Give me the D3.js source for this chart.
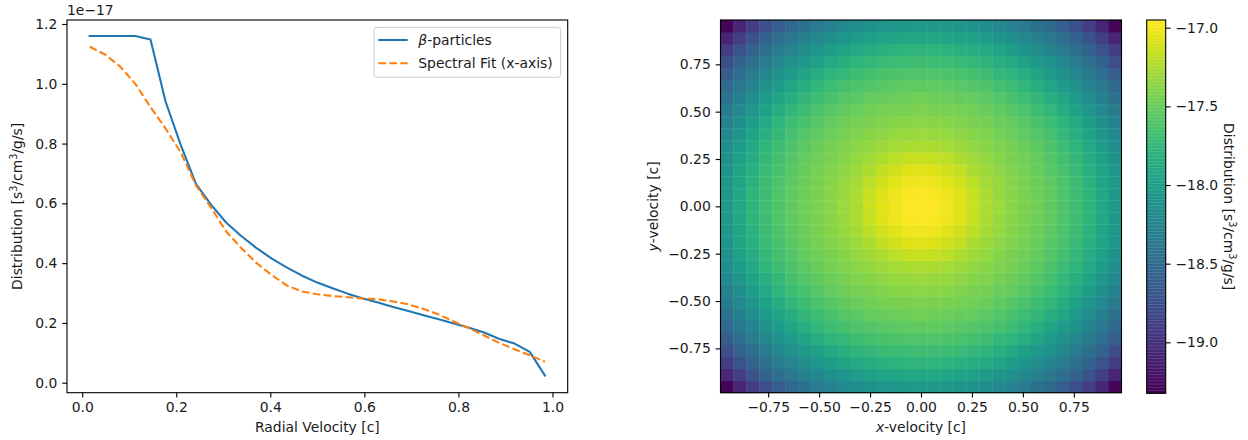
<!DOCTYPE html>
<html><head><meta charset="utf-8">
<script src="https://cdn.jsdelivr.net/npm/d3@7"></script>
<style>
body{margin:0;background:#fff}
text{font-family:"DejaVu Sans",sans-serif;fill:#1a1a1a}
</style>
</head><body>
<svg id="c" width="1248" height="440"></svg>
<script>
// ---------- data: left panel ----------
const radialVelocity = [0.0161,0.0484,0.0806,0.1129,0.1452,0.1774,0.2097,0.2419,0.2742,0.3065,
  0.3387,0.3710,0.4032,0.4355,0.4677,0.5000,0.5323,0.5645,0.5968,0.6290,
  0.6613,0.6935,0.7258,0.7581,0.7903,0.8226,0.8548,0.8871,0.9194,0.9516,0.9839];
const betaParticles = [1.160,1.160,1.160,1.160,1.148,0.940,0.795,0.665,0.595,0.535,
  0.490,0.450,0.415,0.385,0.358,0.335,0.316,0.298,0.282,0.268,
  0.253,0.240,0.226,0.212,0.198,0.184,0.168,0.146,0.131,0.103,0.024];
const spectralFit = [1.124,1.098,1.058,1.000,0.922,0.850,0.770,0.660,0.585,0.505,
  0.450,0.400,0.360,0.325,0.305,0.296,0.290,0.286,0.282,0.279,
  0.272,0.262,0.247,0.228,0.205,0.182,0.158,0.133,0.112,0.092,0.070];
const xTicksLeft = [0.0,0.2,0.4,0.6,0.8,1.0];
const yTicksLeft = [0.0,0.2,0.4,0.6,0.8,1.0,1.2];
const seriesNames = ["β-particles","Spectral Fit (x-axis)"];

// ---------- data: right panel (log10 distribution) ----------
const velCenters = [-0.9525,-0.889,-0.8255,-0.762,-0.6985,-0.635,-0.5715,-0.508,-0.4445,-0.381,
  -0.3175,-0.254,-0.1905,-0.127,-0.0635,0,0.0635,0.127,0.1905,0.254,0.3175,0.381,0.4445,0.508,
  0.5715,0.635,0.6985,0.762,0.8255,0.889,0.9525];
// one quadrant, rows = |y| index, cols = |x| index (0 = centre)
const logQuadrant = [
  [-16.95,-16.96,-17.00,-17.07,-17.15,-17.24,-17.31,-17.37,-17.42,-17.47,-17.53,-17.60,-17.68,-17.78,-17.90,-18.05],
  [-16.96,-16.977,-17.01,-17.08,-17.16,-17.25,-17.315,-17.375,-17.425,-17.475,-17.533,-17.603,-17.685,-17.785,-17.905,-18.055],
  [-17.00,-17.01,-17.06,-17.12,-17.19,-17.27,-17.33,-17.38,-17.43,-17.48,-17.54,-17.61,-17.70,-17.80,-17.92,-18.07],
  [-17.07,-17.08,-17.12,-17.17,-17.24,-17.30,-17.35,-17.40,-17.45,-17.50,-17.565,-17.63,-17.72,-17.82,-17.94,-18.09],
  [-17.15,-17.16,-17.19,-17.24,-17.29,-17.335,-17.38,-17.425,-17.47,-17.52,-17.585,-17.66,-17.745,-17.85,-17.985,-18.12],
  [-17.24,-17.25,-17.27,-17.30,-17.335,-17.375,-17.41,-17.45,-17.495,-17.55,-17.615,-17.69,-17.78,-17.89,-18.03,-18.16],
  [-17.31,-17.315,-17.33,-17.35,-17.38,-17.41,-17.445,-17.485,-17.53,-17.59,-17.65,-17.74,-17.83,-17.94,-18.08,-18.21],
  [-17.37,-17.375,-17.38,-17.40,-17.425,-17.45,-17.485,-17.525,-17.575,-17.63,-17.70,-17.785,-17.89,-18.015,-18.14,-18.27],
  [-17.42,-17.425,-17.43,-17.45,-17.47,-17.495,-17.53,-17.575,-17.625,-17.685,-17.76,-17.85,-17.965,-18.08,-18.21,-18.35],
  [-17.47,-17.475,-17.48,-17.50,-17.52,-17.55,-17.59,-17.63,-17.685,-17.75,-17.835,-17.93,-18.05,-18.16,-18.29,-18.43],
  [-17.53,-17.533,-17.54,-17.565,-17.585,-17.615,-17.65,-17.70,-17.76,-17.835,-17.92,-18.03,-18.13,-18.25,-18.38,-18.52],
  [-17.60,-17.603,-17.61,-17.63,-17.66,-17.69,-17.74,-17.785,-17.85,-17.93,-18.03,-18.12,-18.23,-18.35,-18.48,-18.62],
  [-17.68,-17.685,-17.70,-17.72,-17.745,-17.78,-17.83,-17.89,-17.965,-18.05,-18.13,-18.23,-18.34,-18.46,-18.59,-18.75],
  [-17.78,-17.785,-17.80,-17.82,-17.85,-17.89,-17.94,-18.015,-18.08,-18.16,-18.25,-18.35,-18.46,-18.58,-18.72,-18.89],
  [-17.90,-17.905,-17.92,-17.94,-17.985,-18.03,-18.08,-18.14,-18.21,-18.29,-18.38,-18.48,-18.59,-18.72,-18.88,-19.07],
  [-18.05,-18.055,-18.07,-18.09,-18.12,-18.16,-18.21,-18.27,-18.35,-18.43,-18.52,-18.62,-18.75,-18.89,-19.07,-19.30]
];
const velTicks = [-0.75,-0.50,-0.25,0.00,0.25,0.50,0.75];
const cbarTicks = [-19.0,-18.5,-18.0,-17.5,-17.0];
const colorDomain = [-19.324,-16.951];

// ---------- drawing ----------
const svg = d3.select("#c");
const FS = 13.9;
const LW = 2.08, SPINE = 1.11;
const DASH = "7.7,3.33";
const minus = s => s.replace(/-/g,"\u2212");

function unitLabel(sel){
  sel.append("tspan").text("Distribution [s");
  sel.append("tspan").attr("dy",-5).attr("font-size",9.7).text("3");
  sel.append("tspan").attr("dy",5).text("/cm");
  sel.append("tspan").attr("dy",-5).attr("font-size",9.7).text("3");
  sel.append("tspan").attr("dy",5).text("/g/s]");
}
function styleAxis(g){
  g.select(".domain").remove();
  g.selectAll(".tick line").attr("stroke","#000").attr("stroke-width",SPINE);
  g.selectAll(".tick text").attr("font-size",FS).attr("font-family","DejaVu Sans").attr("fill","#1a1a1a");
}

// Left panel
const L = {x0:67, x1:567.7, y0:20, y1:392.7};
const xL = d3.scaleLinear().domain([-0.0323,1.0323]).range([L.x0,L.x1]);
const yL = d3.scaleLinear().domain([-0.0334,1.2134]).range([L.y1,L.y0]);

const gL = svg.append("g");
const lineGen = d3.line().x((d,i)=>xL(radialVelocity[i])).y(d=>yL(d));
gL.append("path").datum(betaParticles).attr("d",lineGen)
  .attr("fill","none").attr("stroke","#1f77b4").attr("stroke-width",LW).attr("stroke-linejoin","round").attr("stroke-linecap","square");
gL.append("path").datum(spectralFit).attr("d",lineGen)
  .attr("fill","none").attr("stroke","#ff7f0e").attr("stroke-width",LW).attr("stroke-dasharray",DASH);

const axBL = gL.append("g").attr("transform",`translate(0,${L.y1})`)
  .call(d3.axisBottom(xL).tickValues(xTicksLeft).tickFormat(d3.format(".1f")).tickSizeOuter(0).tickSize(4.86).tickPadding(4.86));
styleAxis(axBL);
const axLL = gL.append("g").attr("transform",`translate(${L.x0},0)`)
  .call(d3.axisLeft(yL).tickValues(yTicksLeft).tickFormat(d3.format(".1f")).tickSizeOuter(0).tickSize(4.86).tickPadding(4.86));
styleAxis(axLL);
gL.append("rect").attr("x",L.x0).attr("y",L.y0).attr("width",L.x1-L.x0).attr("height",L.y1-L.y0)
  .attr("fill","none").attr("stroke","#000").attr("stroke-width",SPINE);

gL.append("text").attr("x",L.x0).attr("y",15).attr("font-size",FS).text("1e\u221217");
gL.append("text").attr("x",(L.x0+L.x1)/2).attr("y",432).attr("text-anchor","middle").attr("font-size",FS).text("Radial Velocity [c]");
gL.append("text").attr("transform",`translate(22,${(L.y0+L.y1)/2}) rotate(-90)`).attr("text-anchor","middle")
  .attr("font-size",FS).call(unitLabel);

// legend
const lg = gL.append("g");
lg.append("rect").attr("x",374).attr("y",27.3).attr("width",186.7).attr("height",50).attr("rx",3)
  .attr("fill","#fff").attr("fill-opacity",0.8).attr("stroke","#cccccc").attr("stroke-width",1);
const legendStyles = [{c:"#1f77b4",dash:null},{c:"#ff7f0e",dash:DASH}];
seriesNames.forEach((name,i)=>{
  const yy = 40 + i*23.3;
  lg.append("line").attr("x1",378.3).attr("x2",407.7).attr("y1",yy).attr("y2",yy)
    .attr("stroke",legendStyles[i].c).attr("stroke-width",LW).attr("stroke-dasharray",legendStyles[i].dash);
  const t = lg.append("text").attr("x",418.3).attr("y",yy).attr("dy","0.35em").attr("font-size",FS);
  if(i===0){ t.append("tspan").attr("font-style","italic").text("β"); t.append("tspan").text("-particles"); }
  else t.text(name);
});

// Right panel: heatmap
const R = {x0:720.5, x1:1121.5, y0:20, y1:392.7};
const xR = d3.scaleLinear().domain([-0.984,0.984]).range([R.x0,R.x1]);
const yR = d3.scaleLinear().domain([-0.984,0.984]).range([R.y1,R.y0]);
const color = d3.scaleSequential(d3.interpolateViridis).domain(colorDomain);
const half = (velCenters[1]-velCenters[0])/2;
const mid = (velCenters.length-1)/2;
const cells = [];
velCenters.forEach((vy,r)=>velCenters.forEach((vx,c)=>{
  cells.push({vx,vy,v:logQuadrant[Math.abs(r-mid)][Math.abs(c-mid)]});
}));
const gR = svg.append("g");
gR.selectAll("rect.cell").data(cells).join("rect").attr("class","cell")
  .attr("x",d=>xR(d.vx-half)).attr("y",d=>yR(d.vy+half))
  .attr("width",d=>xR(d.vx+half)-xR(d.vx-half)+0.4)
  .attr("height",d=>yR(d.vy-half)-yR(d.vy+half)+0.4)
  .attr("fill",d=>color(d.v));
gR.append("rect").attr("x",R.x0).attr("y",R.y0).attr("width",R.x1-R.x0).attr("height",R.y1-R.y0)
  .attr("fill","none").attr("stroke","#000").attr("stroke-width",SPINE);
const fmt2 = v=>minus(d3.format(".2f")(v));
const axBR = gR.append("g").attr("transform",`translate(0,${R.y1})`)
  .call(d3.axisBottom(xR).tickValues(velTicks).tickFormat(fmt2).tickSizeOuter(0).tickSize(4.86).tickPadding(4.86));
styleAxis(axBR);
const axLR = gR.append("g").attr("transform",`translate(${R.x0},0)`)
  .call(d3.axisLeft(yR).tickValues(velTicks).tickFormat(fmt2).tickSizeOuter(0).tickSize(4.86).tickPadding(4.86));
styleAxis(axLR);
const xl = gR.append("text").attr("x",xR(0)).attr("y",432).attr("text-anchor","middle").attr("font-size",FS);
xl.append("tspan").attr("font-style","italic").text("x"); xl.append("tspan").text("-velocity [c]");
const yl = gR.append("text").attr("transform",`translate(658,${(R.y0+R.y1)/2}) rotate(-90)`).attr("text-anchor","middle").attr("font-size",FS);
yl.append("tspan").attr("font-style","italic").text("y"); yl.append("tspan").text("-velocity [c]");

// colorbar
const C = {x0:1146.7, x1:1165.7, y0:20, y1:393.3};
const yC = d3.scaleLinear().domain(colorDomain).range([C.y1,C.y0]);
const gC = svg.append("g");
const nSteps = 256;
const steps = d3.range(nSteps).map(i=>colorDomain[0]+(colorDomain[1]-colorDomain[0])*i/nSteps);
const stepH = (colorDomain[1]-colorDomain[0])/nSteps;
gC.selectAll("rect.cb").data(steps).join("rect").attr("class","cb")
  .attr("x",C.x0).attr("width",C.x1-C.x0)
  .attr("y",d=>yC(d+stepH)).attr("height",d=>yC(d)-yC(d+stepH)+0.3)
  .attr("fill",d=>color(d+stepH/2));
gC.append("rect").attr("x",C.x0).attr("y",C.y0).attr("width",C.x1-C.x0).attr("height",C.y1-C.y0)
  .attr("fill","none").attr("stroke","#000").attr("stroke-width",SPINE);
const axC = gC.append("g").attr("transform",`translate(${C.x1},0)`)
  .call(d3.axisRight(yC).tickValues(cbarTicks).tickFormat(v=>minus(d3.format(".1f")(v))).tickSizeOuter(0).tickSize(4.86).tickPadding(4.86));
styleAxis(axC);
gC.append("text").attr("transform",`translate(1224,${(C.y0+C.y1)/2}) rotate(90)`).attr("text-anchor","middle")
  .attr("font-size",FS).call(unitLabel);
</script>
</body></html>
